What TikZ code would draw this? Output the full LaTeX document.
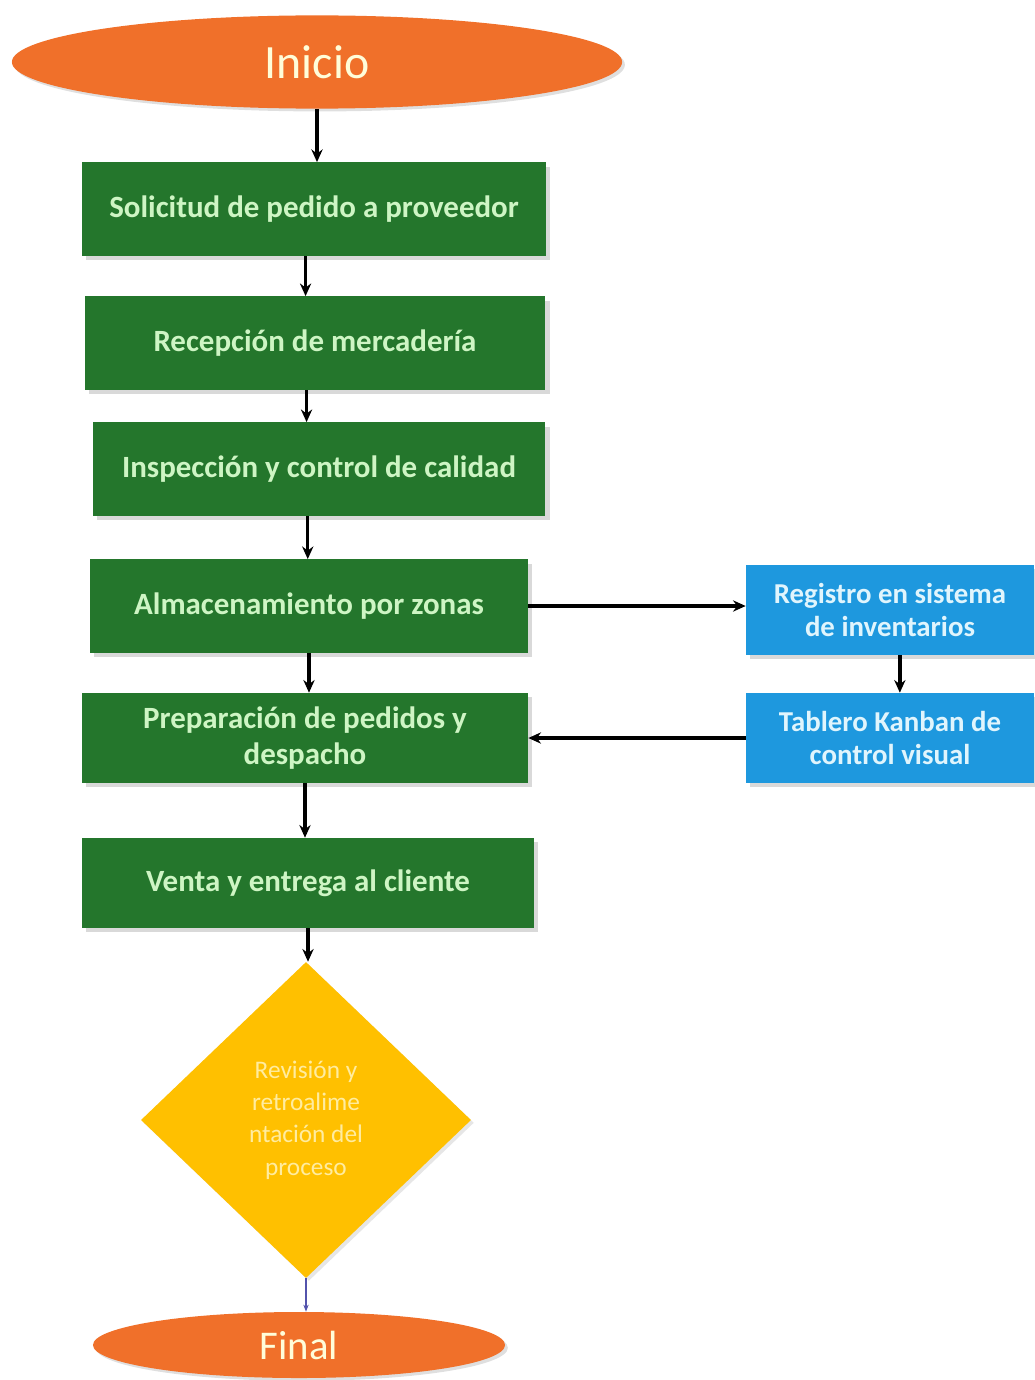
\documentclass[tikz,border=0pt]{standalone}
\usepackage{fontspec}
\setmainfont{Carlito}
\usetikzlibrary{shapes.geometric,arrows.meta,shadows}
\definecolor{naranja}{RGB}{240,112,42}
\definecolor{verde}{RGB}{36,118,44}
\definecolor{textoverde}{RGB}{206,245,196}
\definecolor{azul}{RGB}{30,152,222}
\definecolor{amarillo}{RGB}{255,192,0}
\definecolor{textoamarillo}{RGB}{255,236,160}

\begin{document}
\begin{tikzpicture}[
  x=0.025cm, y=-0.025cm,
  terminal/.style={ellipse, fill=naranja, text=white!85!yellow, inner sep=0pt,
    drop shadow={opacity=0.25, shadow xshift=2pt, shadow yshift=-2pt}},
  paso/.style={rectangle, fill=verde, text=textoverde, align=center, inner sep=0pt,
    minimum height=2.33cm, font=\fontsize{22}{26}\selectfont\bfseries,
    drop shadow={opacity=0.3, shadow xshift=3pt, shadow yshift=-3pt}},
  apoyo/.style={rectangle, fill=azul, text=white!88!cyan, align=center, inner sep=0pt,
    minimum width=7.2cm, minimum height=2.25cm, font=\fontsize{20.5}{24}\selectfont\bfseries,
    drop shadow={opacity=0.3, shadow xshift=3pt, shadow yshift=-3pt}},
  flecha/.style={draw, -{Stealth[length=9pt,width=8pt]}, line width=2.2pt}
]
\useasboundingbox (0,0) rectangle (1034,1380);

% inicio y pasos principales
\node[terminal, minimum width=15.25cm, minimum height=2.33cm, font=\fontsize{34}{38}\selectfont] (ini) at (317,62) {Inicio};
\node[paso, minimum width=11.6cm] (s1) at (314,209) {Solicitud de pedido a proveedor};
\node[paso, minimum width=11.52cm] (s2) at (315,343) {Recepción de mercadería};
\node[paso, minimum width=11.32cm] (s3) at (319,469) {Inspección y control de calidad};
\node[paso, minimum width=10.95cm] (s4) at (309,606) {Almacenamiento por zonas};
\node[paso, minimum width=11.15cm, minimum height=2.25cm] (s5) at (305,738) {Preparación de pedidos y\\despacho};
\node[paso, minimum width=11.3cm, minimum height=2.25cm] (s6) at (308,883) {Venta y entrega al cliente};

% decision y final
\node[diamond, fill=amarillo, text=textoamarillo, align=center, inner sep=0pt,
  minimum width=8.25cm, minimum height=7.9cm, font=\fontsize{18}{23}\selectfont,
  drop shadow={opacity=0.2, shadow xshift=2pt, shadow yshift=-2pt}] (dec) at (306,1120)
  {Revisión y\\retroalime\\ntación del\\proceso};
\node[terminal, minimum width=10.3cm, minimum height=1.65cm, font=\fontsize{29}{33}\selectfont] (fin) at (299,1345) {Final};

% sistema de apoyo
\node[apoyo] (r1) at (890,610) {Registro en sistema\\de inventarios};
\node[apoyo] (r2) at (890,738) {Tablero Kanban de\\control visual};

% conectores
\draw[flecha] (ini) -- (ini.south |- s1.north);
\draw[flecha] ([xshift=-6pt]s1.south) -- ([xshift=-6pt]s1.south |- s2.north);
\draw[flecha] ([xshift=-6pt]s2.south) -- ([xshift=-6pt]s2.south |- s3.north);
\draw[flecha] ([xshift=-8pt]s3.south) -- ([xshift=-8pt]s3.south |- s4.north);
\draw[flecha] (s4.south) -- (s4.south |- s5.north);
\draw[flecha, line width=3.2pt] (s5.south) -- (s5.south |- s6.north);
\draw[flecha] (s6.south) -- (s6.south |- dec.north);
\draw[flecha] (s4.east) -- (s4.east -| r1.west);
\draw[flecha, line width=3pt] ([xshift=7pt]r1.south) -- ([xshift=7pt]r1.south |- r2.north);
\draw[flecha] (r2.west) -- (r2.west -| s5.east);
\draw[-{Stealth[length=5pt]}, line width=1.2pt, draw=blue!35!gray] (dec.south) -- (dec.south |- fin.north);
\end{tikzpicture}
\end{document}
